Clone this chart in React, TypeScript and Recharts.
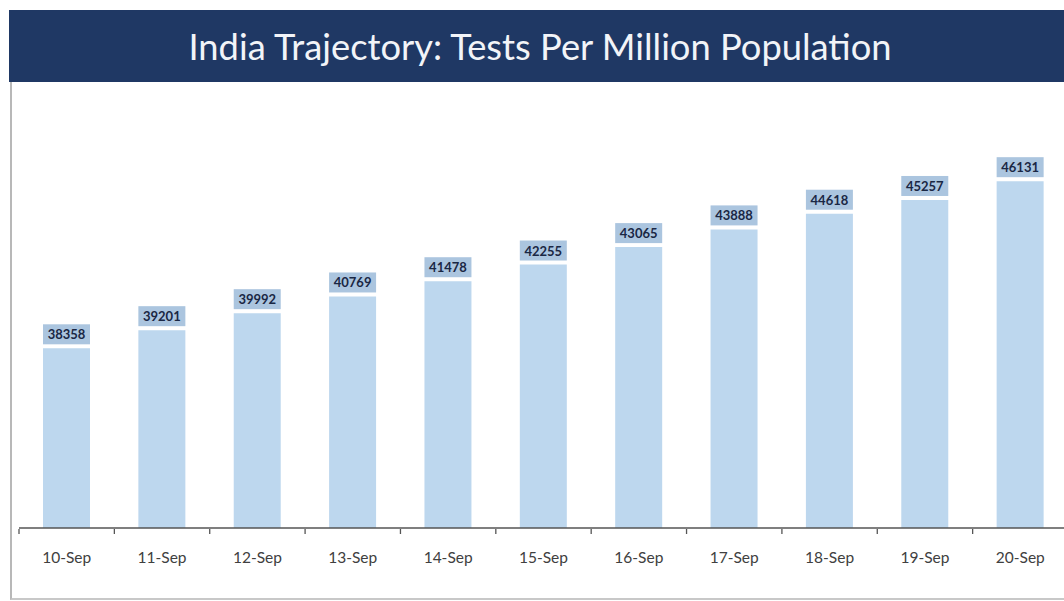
import { Bar, BarChart, LabelList, XAxis, YAxis } from "recharts";

const days = ["10-Sep", "11-Sep", "12-Sep", "13-Sep", "14-Sep", "15-Sep", "16-Sep", "17-Sep", "18-Sep", "19-Sep", "20-Sep"];
const testsPerMillion = [38358, 39201, 39992, 40769, 41478, 42255, 43065, 43888, 44618, 45257, 46131];

const rows = days.map((day, i) => ({ day, tpm: testsPerMillion[i] }));

const BAR_COLOR = "#bdd7ee";
const LABEL_BOX = "#abc5df";
const NAVY = "#1f3864";

function DayTick(props: any) {
  const { x, y, payload } = props;
  const half = payload?.offset ?? 47.6;
  return (
    <g>
      <line x1={x - half} y1={y - 7} x2={x - half} y2={y - 2} stroke="#555" strokeWidth={1.3} />
      <text x={x} y={y + 21} textAnchor="middle" dominantBaseline="central" fontSize={15.5} fill="#404040" fontFamily="Lato, 'Open Sans', sans-serif">
        {payload.value}
      </text>
    </g>
  );
}

function ValueBox(props: any) {
  const { x, y, width, value } = props;
  return (
    <g>
      <rect x={x} y={y - 24} width={width} height={20} fill={LABEL_BOX} />
      <text x={x + width / 2} y={y - 14} textAnchor="middle" dominantBaseline="central" fontSize={13} fontWeight={700} fill="#1a2744" fontFamily="Lato, 'Open Sans', sans-serif">
        {value}
      </text>
    </g>
  );
}

export default function App() {
  return (
    <div style={{ position: "absolute", left: 0, top: 0, width: 1064, height: 601, overflow: "hidden", background: "#fff" }}>
      <div
        style={{
          position: "absolute",
          left: 9,
          top: 10,
          width: 1055,
          height: 72,
          background: NAVY,
          color: "#f2f4f8",
          display: "flex",
          alignItems: "center",
          justifyContent: "center",
          fontFamily: "Lato, 'Open Sans', sans-serif",
          fontSize: 36.3,
          paddingLeft: 7,
          boxSizing: "border-box",
        }}
      >
        India Trajectory: Tests Per Million Population
      </div>
      <div style={{ position: "absolute", left: 10, top: 82, width: 1054, height: 516, borderLeft: "2px solid #b8b8b8", borderBottom: "2px solid #c8c8c8" }} />
      <div style={{ position: "absolute", left: 0, top: 0 }}>
        <BarChart width={1080} height={601} data={rows} margin={{ top: 141, right: 12, bottom: 43, left: 19 }} barSize={47}>
          <XAxis
            dataKey="day"
            height={30}
            interval={0}
            tickLine={false}
            axisLine={{ stroke: "#555", strokeWidth: 1.3 }}
            tick={<DayTick />}
          />
          <YAxis hide domain={[30000, 48000]} />
          <Bar dataKey="tpm" fill={BAR_COLOR} isAnimationActive={false}>
            <LabelList dataKey="tpm" content={<ValueBox />} />
          </Bar>
        </BarChart>
      </div>
    </div>
  );
}
